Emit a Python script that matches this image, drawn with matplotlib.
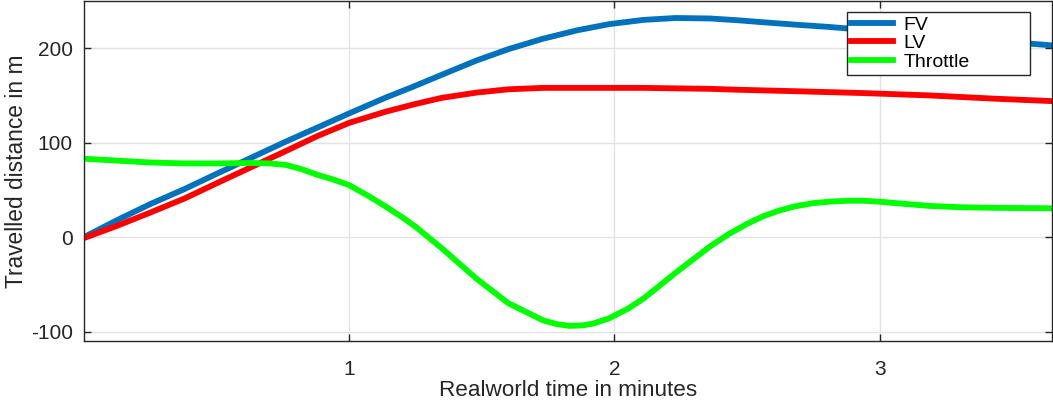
import matplotlib
matplotlib.use("Agg")
import matplotlib.pyplot as plt

plt.rcParams['font.family'] = ['Liberation Sans', 'DejaVu Sans']
plt.rcParams['axes.unicode_minus'] = False

# Data (time in minutes, distance in m)
t_fv = [0, 0.125, 0.25, 0.38, 0.5, 0.63, 0.76, 0.88, 1.0, 1.14, 1.23, 1.35, 1.48, 1.6,
        1.73, 1.86, 1.98, 2.11, 2.23, 2.36, 2.47, 2.56, 2.68, 2.81, 2.94, 3.1, 3.25, 3.4,
        3.56, 3.65]
fv = [0, 18, 35, 51, 67, 84, 101, 116, 131, 148, 158, 172, 187, 199,
      210, 219, 225.5, 230, 232, 231.5, 229.5, 227.5, 225, 222.5, 219.5, 216, 212.5, 209,
      205, 203]

t_lv = [0, 0.125, 0.25, 0.38, 0.5, 0.63, 0.76, 0.88, 1.0, 1.14, 1.25, 1.35, 1.48, 1.6,
        1.73, 1.86, 1.98, 2.11, 2.23, 2.36, 2.47, 2.68, 2.94, 3.19, 3.44, 3.65]
lv = [-1, 12, 26, 41, 57, 74, 91, 107, 121, 133, 141, 147.5, 153, 156.5,
      158, 158, 158, 158, 157.5, 157, 156, 154.5, 152.5, 150, 146.5, 144]

t_thr = [0, 0.125, 0.25, 0.38, 0.5, 0.63, 0.7, 0.76, 0.82, 0.88, 0.94, 1.0, 1.07, 1.14,
         1.2, 1.25, 1.35, 1.48, 1.6, 1.73, 1.78, 1.83, 1.88, 1.92, 1.98, 2.05, 2.11, 2.23,
         2.36, 2.43, 2.5, 2.56, 2.62, 2.68, 2.75, 2.81, 2.88, 2.94, 3.0, 3.06, 3.19, 3.31,
         3.44, 3.65]
thr = [83, 81, 79, 78, 78, 78.5, 78, 76.5, 72, 66, 61, 55, 44, 32,
       21, 11, -12, -44, -70, -88, -92, -94, -93.5, -91.5, -86, -76, -65, -38,
       -10, 3, 14, 22, 28, 32.5, 36, 37.5, 38.5, 38.5, 37.5, 36, 33, 31.6,
       31, 30.5]

fig = plt.figure(figsize=(10.53, 4.0), dpi=100)
ax = fig.add_axes([84 / 1053, 59 / 400, 968 / 1053, 340 / 400])

ax.plot(t_fv, fv, color='#0072BD', lw=4.2, label='FV', solid_joinstyle='round')
ax.plot(t_lv, lv, color='#FF0000', lw=4.2, label='LV', solid_joinstyle='round')
ax.plot(t_thr, thr, color='#00FF00', lw=4.2, label='Throttle', solid_joinstyle='round')

ax.set_xlim(0, 3.65)
ax.set_ylim(-110, 250)
ax.set_xticks([1, 2, 3])
ax.set_yticks([-100, 0, 100, 200])
ax.grid(True, color='#e3e3e3', lw=1)
ax.set_axisbelow(True)

for s in ax.spines.values():
    s.set_color('#262626')
    s.set_linewidth(1)
ax.tick_params(direction='in', length=5, width=1, color='#262626', labelcolor='#262626',
               labelsize=15, top=True, right=True)
ax.tick_params(axis='y', pad=8)
ax.tick_params(axis='x', pad=14)

ax.set_xlabel('Realworld time in minutes', fontsize=16.2, color='#262626', va='baseline')
ax.xaxis.set_label_coords(0.5, -0.1603)
ax.set_ylabel('Travelled distance in m', fontsize=16.4, color='#262626')
ax.yaxis.set_label_coords(-0.058, 0.5)

leg = ax.legend(loc='upper left', bbox_to_anchor=(0.788, 0, 0.189, 0.9676), mode='expand',
                fontsize=14, frameon=True, fancybox=False, edgecolor='#262626',
                handlelength=2.2, borderpad=0.2, labelspacing=0.05, handletextpad=0.5,
                borderaxespad=0)
leg.get_frame().set_linewidth(1)
leg.get_frame().set_alpha(1)

fig.savefig('out.png', dpi=100)
